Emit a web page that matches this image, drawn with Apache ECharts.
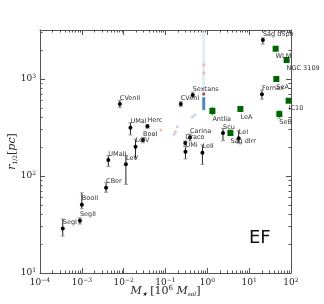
<!DOCTYPE html>
<html><head><meta charset="utf-8">
<script src="https://cdn.jsdelivr.net/npm/echarts@6/dist/echarts.min.js"></script>
<style>html,body{margin:0;padding:0;background:#fff}#c{width:324px;height:304px}</style>
</head><body><div id="c"></div>
<script>
// Pressure-supported (black) dwarfs
const blackNames = ['SegI','SegII','BooII','CBer','UMaII','LeV','LeIV','UMaI','Herc','BooI','CVenII','CVenI','Sextans','Carina','Draco','UMi','LeII','Scu','LeI','Fornax','Sag dSph'];
const blackMass  = [3.5e-4, 9.0e-4, 1.0e-3, 3.8e-3, 4.3e-3, 0.0113, 0.0192, 0.0145, 0.037, 0.029, 0.0081, 0.232, 0.448, 0.386, 0.297, 0.30, 0.764, 2.37, 5.6, 20.2, 21.3];
const blackR     = [28.7, 34.6, 50.6, 75.7, 146, 132, 200, 314, 325, 235, 552, 552, 684, 249, 219, 178, 174, 277, 245, 695, 2523];
const blackRLo   = [24, 32, 46, 68, 125, 82, 153, 265, 310, 220, 510, 520, 640, 230, 205, 150, 132, 231, 218, 620, 2290];
const blackRHi   = [36, 37, 67, 86, 162, 162, 240, 355, 340, 250, 600, 585, 730, 270, 230, 200, 209, 310, 293, 770, 2660];
// Rotating (green) dwarfs
const greenNames = ['Antlia','LeA','Sag dIrr','WLM','NGC 3109','SeA','IC10','SeB'];
const greenMass  = [1.32, 6.17, 3.56, 42.9, 78.5, 44.6, 87.7, 52.6];
const greenR     = [468, 491, 277, 2051, 1570, 1000, 597, 435];
const greenRLo   = [425, null, 262, null, null, null, null, 390];
const greenRHi   = [510, null, 300, null, null, null, null, 470];
// faint model points
const faintBlueMass = [0.0526, 0.160, 0.193, 0.441, 0.50];
const faintBlueR    = [265, 269, 322, 408, 425];
const faintRedMass  = [0.0773, 0.173, 0.82, 0.82];
const faintRedR     = [298, 286, 1400, 1150];
// vertical model column
const columnMass = [0.82, 0.82];
const columnR    = [665, 3200];
const coreR      = [480, 650];
const redDot     = [0.82, 700];

const zip = (a, b) => a.map((v, i) => [v, b[i]]);
const errData = (m, lo, hi) => m.map((v, i) => [v, lo[i], hi[i]]).filter(d => d[1] != null);

function expLabel(v) {
  const e = Math.round(Math.log10(v));
  return '{b|10}{e|' + (e < 0 ? '\u2212' + (-e) : e) + '}';
}
const tickRich = {
  b: {fontSize: 9, fontFamily: 'DejaVu Serif', color: '#222'},
  e: {fontSize: 6, fontFamily: 'DejaVu Serif', color: '#222', padding: [0, 0, 6, 0]}
};
const axisCol = '#555';
function logAxis(pos, labels, min, max) {
  return {
    type: 'log', logBase: 10, min: min, max: max, position: pos,
    axisLine: {show: true, onZero: false, lineStyle: {color: axisCol, width: 1}},
    axisTick: {show: true, inside: true, length: 5, lineStyle: {color: axisCol}},
    minorTick: {show: true, splitNumber: 9, length: 2.5, lineStyle: {color: axisCol}},
    splitLine: {show: false},
    axisLabel: labels ? {show: true, formatter: expLabel, rich: tickRich, margin: 4, showMaxLabel: max === 100, showMinLabel: true} : {show: false}
  };
}
function errRender(capColor, barColor) {
  return function (params, api) {
    const x = api.value(0), lo = api.value(1), hi = api.value(2);
    const p1 = api.coord([x, lo]), p2 = api.coord([x, hi]);
    const w = 2;
    return {type: 'group', children: [
      {type: 'line', shape: {x1: p1[0], y1: p1[1], x2: p2[0], y2: p2[1]}, style: {stroke: barColor, lineWidth: 1}},
      {type: 'line', shape: {x1: p1[0] - w, y1: p1[1], x2: p1[0] + w, y2: p1[1]}, style: {stroke: capColor, lineWidth: 1}},
      {type: 'line', shape: {x1: p2[0] - w, y1: p2[1], x2: p2[0] + w, y2: p2[1]}, style: {stroke: capColor, lineWidth: 1}}
    ]};
  };
}
const labelStyle = {fontSize: 6.5, fontFamily: 'DejaVu Sans', color: '#333'};

const xb = logAxis('bottom', true, 1e-4, 100);
xb.name = '{i|M}{s|\u2605}{n| [10}{e|6}{n| }{i|M}{s|sol}{n|]}';
xb.nameLocation = 'middle';
xb.nameGap = 12;
xb.nameMoveOverlap = false;
xb.nameTextStyle = {rich: {
  i: {fontSize: 11, fontStyle: 'italic', fontFamily: 'DejaVu Serif', color: '#222'},
  s: {fontSize: 6, fontFamily: 'DejaVu Serif', fontStyle: 'italic', color: '#222', padding: [6, 0, 0, 0]},
  n: {fontSize: 11, fontFamily: 'DejaVu Serif', color: '#222'},
  e: {fontSize: 7, fontFamily: 'DejaVu Serif', color: '#222', padding: [0, 0, 6, 0]}
}};
const yl = logAxis('left', true, 10, 3200);
yl.name = '{i|r}{s|1/2}{n|[}{i|pc}{n|]}';
yl.nameLocation = 'middle';
yl.nameGap = 22;
yl.nameMoveOverlap = false;
yl.nameRotate = 90;
yl.nameTextStyle = {rich: {
  i: {fontSize: 11, fontStyle: 'italic', fontFamily: 'DejaVu Serif', color: '#222'},
  s: {fontSize: 6, fontFamily: 'DejaVu Serif', color: '#222', padding: [6, 0, 0, 0]},
  n: {fontSize: 11, fontFamily: 'DejaVu Serif', color: '#222'}
}};

const chart = echarts.init(document.getElementById('c'), null, {renderer: 'canvas'});
chart.setOption({
  backgroundColor: '#fff',
  animation: false,
  grid: {left: 40, top: 30, right: 33, bottom: 31, containLabel: false, outerBoundsMode: 'none'},
  xAxis: [xb, logAxis('top', false, 1e-4, 100)],
  yAxis: [yl, logAxis('right', false, 10, 3200)],
  graphic: [{type: 'text', left: 249, top: 229, style: {text: 'EF', fontSize: 18, fontFamily: 'DejaVu Sans', fill: '#111'}}],
  series: [
    {type: 'line', data: zip(columnMass, columnR), symbol: 'none', lineStyle: {color: 'rgba(200,218,240,0.5)', width: 3}, silent: true, z: 1},
    {type: 'line', data: zip(columnMass, coreR), symbol: 'none', lineStyle: {color: '#4a86c8', width: 3}, silent: true, z: 2},
    {type: 'scatter', data: [redDot], symbolSize: 3, itemStyle: {color: '#c0392b', opacity: 1}, z: 3},
    {type: 'scatter', data: zip(faintBlueMass, faintBlueR), symbolSize: 3, itemStyle: {color: 'rgba(150,185,225,0.6)', opacity: 1}, z: 1},
    {type: 'scatter', data: zip(faintRedMass, faintRedR), symbolSize: 3, itemStyle: {color: 'rgba(240,150,120,0.6)', opacity: 1}, z: 1},
    {type: 'custom', data: errData(blackMass, blackRLo, blackRHi), renderItem: errRender('#999', '#222'), encode: {x: 0, y: [1, 2]}, z: 4},
    {type: 'custom', data: errData(greenMass, greenRLo, greenRHi), renderItem: errRender('#8c8', '#3a3'), encode: {x: 0, y: [1, 2]}, z: 4},
    {type: 'scatter', data: blackMass.map((m, i) => ({value: [m, blackR[i]], name: blackNames[i]})), symbol: 'circle', symbolSize: 4,
      itemStyle: {color: '#000', opacity: 1}, z: 5,
      label: {show: true, formatter: p => p.name, position: [2, -4], align: 'left', verticalAlign: 'middle', ...labelStyle}},
    {type: 'scatter', data: greenMass.map((m, i) => ({value: [m, greenR[i]], name: greenNames[i]})), symbol: 'rect', symbolSize: 6,
      itemStyle: {color: '#006400', opacity: 1}, z: 5,
      label: {show: true, formatter: p => p.name, position: [3, 11], align: 'left', verticalAlign: 'middle', ...labelStyle}}
  ]
});
</script></body></html>
